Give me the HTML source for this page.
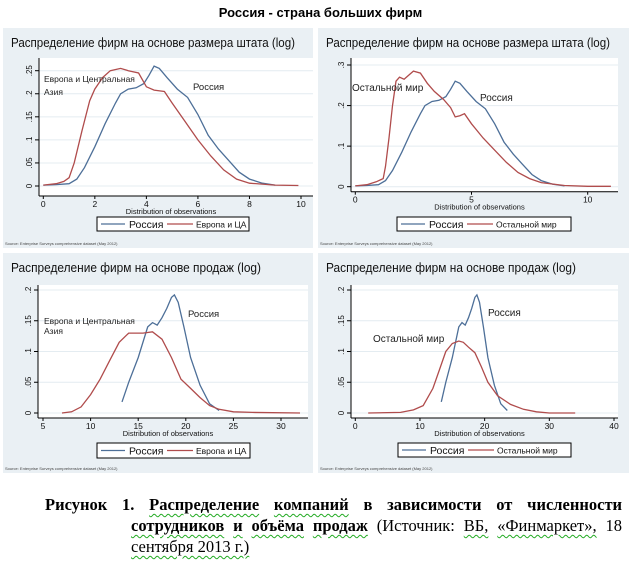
<!DOCTYPE html>
<html><head><meta charset="utf-8">
<style>
body{margin:0;width:633px;height:561px;background:#fff;overflow:hidden;position:relative;font-family:"Liberation Sans","DejaVu Sans",sans-serif}
#main-title{position:absolute;left:0;width:633px;top:5px;text-align:center;font-weight:bold;font-size:13px;color:#000;padding-left:4px}
svg{position:absolute;left:0;top:0}
.cap{position:absolute;font-family:"Liberation Serif",serif;font-size:16.5px;line-height:20px;color:#000;white-space:nowrap}
.just{text-align:justify;text-align-last:justify;white-space:normal}
.u{text-decoration:underline wavy #2a2;text-decoration-thickness:1px;text-underline-offset:3px}
</style></head><body>
<div id="main-title">Россия - страна больших фирм</div>
<svg id="chart" width="633" height="561"></svg>
<div>
<div class="cap just" style="left:45px;top:495px;width:577px"><b>Рисунок</b> <b>1.</b> <b class="u">Распределение</b> <b class="u">компаний</b> <b>в</b> <b>зависимости</b> <b>от</b> <b>численности</b></div>
<div class="cap just" style="left:131px;top:516px;width:491px"><b class="u">сотрудников</b> <b class="u">и</b> <b class="u">объёма</b> <b class="u">продаж</b> (Источник: <span class="u">ВБ,</span> <span class="u">«Финмаркет»,</span> 18</div>
<div class="cap" style="left:131px;top:537px"><span class="u">сентября 2013 г.)</span></div>
</div>
<script>
// Panel 1: staff size, Russia vs Europe & Central Asia
const p1RusX=[0,0.5,1,1.3,1.6,2,2.4,2.8,3.0,3.3,3.6,3.9,4.1,4.3,4.5,4.8,5.2,5.6,6,6.4,6.8,7.2,7.6,8,8.5,9];
const p1RusY=[0.002,0.003,0.005,0.015,0.04,0.085,0.135,0.18,0.2,0.21,0.213,0.222,0.24,0.26,0.255,0.235,0.21,0.192,0.155,0.11,0.08,0.055,0.03,0.015,0.006,0.002];
const p1EcaX=[0,0.5,0.8,1,1.2,1.5,1.8,2,2.3,2.6,3,3.3,3.7,4,4.3,4.7,5,5.5,6,6.5,7,7.5,8,9,9.9];
const p1EcaY=[0.002,0.005,0.01,0.018,0.05,0.12,0.185,0.21,0.235,0.25,0.255,0.25,0.245,0.215,0.208,0.205,0.18,0.14,0.1,0.065,0.035,0.015,0.006,0.002,0.001];
const p1XTicks=[0,2,4,6,8,10];
const p1YTicks=[0,0.05,0.1,0.15,0.2,0.25];
const p1YLabels=["0",".05",".1",".15",".2",".25"];
// Panel 2: staff size, Russia vs rest of world
const p2RusX=p1RusX;
const p2RusY=p1RusY;
const p2RowX=[0,0.5,0.9,1.2,1.3,1.45,1.6,1.75,1.9,2.1,2.3,2.5,2.8,3.1,3.4,3.8,4.1,4.3,4.5,4.7,5,5.5,6,6.5,7,7.5,8,9,10,11];
const p2RowY=[0.002,0.005,0.012,0.02,0.05,0.12,0.2,0.26,0.27,0.265,0.275,0.285,0.28,0.255,0.235,0.215,0.195,0.172,0.175,0.18,0.155,0.12,0.09,0.06,0.035,0.02,0.01,0.003,0.001,0.001];
const p2XTicks=[0,5,10];
const p2YTicks=[0,0.1,0.2,0.3];
const p2YLabels=["0",".1",".2",".3"];
// Panel 3: sales, Russia vs Europe & Central Asia
const p3RusX=[13.3,14,15,16,16.5,17,17.5,18,18.5,18.8,19.2,19.8,20.5,21.5,22.5,23.5];
const p3RusY=[0.018,0.05,0.09,0.14,0.147,0.143,0.155,0.17,0.188,0.192,0.18,0.14,0.09,0.045,0.015,0.004];
const p3EcaX=[7,8,9,10,11,12,13,14,14.5,15.5,16.5,17.5,18.5,19.5,20.5,21.5,22.5,23.5,25,27,32];
const p3EcaY=[0,0.002,0.01,0.03,0.055,0.085,0.115,0.13,0.13,0.13,0.132,0.12,0.09,0.055,0.04,0.025,0.012,0.006,0.002,0.001,0];
const p3XTicks=[5,10,15,20,25,30];
const p3YTicks=[0,0.05,0.1,0.15,0.2];
const p3YLabels=["0",".05",".1",".15",".2"];
// Panel 4: sales, Russia vs rest of world
const p4RusX=p3RusX;
const p4RusY=p3RusY;
const p4RowX=[2,7,9,10.5,12,13,14,15,16,16.7,17.5,18.5,19.5,20.5,22,24,26,28,30,34];
const p4RowY=[0,0.001,0.005,0.012,0.04,0.07,0.1,0.113,0.117,0.115,0.107,0.098,0.075,0.05,0.028,0.014,0.006,0.002,0,0];
const p4XTicks=[0,10,20,30,40];
const p4YTicks=[0,0.05,0.1,0.15,0.2];
const p4YLabels=["0",".05",".1",".15",".2"];

const NS="http://www.w3.org/2000/svg";
const svg=document.getElementById('chart');
const BLUE="#4d6f98",RED="#b04c4c";
function mk(tag,attrs,parent,text){const e=document.createElementNS(NS,tag);for(const k in attrs)e.setAttribute(k,attrs[k]);if(text!==undefined)e.textContent=text;(parent||svg).appendChild(e);return e;}

function panel(cfg){
  const g=mk('g',{});
  
  
  const bg=mk('rect',{x:cfg.px,y:cfg.py,width:cfg.pw,height:cfg.ph,fill:'#eaf0f4'},g);
  
  
  const pa=mk('rect',{x:cfg.ax0,y:cfg.ay1,width:cfg.ax1-cfg.ax0,height:cfg.axisY-cfg.ay1,fill:'#fff'},g);
  
  
  const xs=v=>cfg.x0px+(v-cfg.xmin)*(cfg.x1px-cfg.x0px)/(cfg.xmax-cfg.xmin);
  const ys=v=>cfg.y0px-(v-cfg.ymin)*(cfg.y0px-cfg.y1px)/(cfg.ymax-cfg.ymin);
  const t=mk('text',{x:cfg.px+8,y:cfg.py+19,'font-size':12.5,fill:'#111',textLength:cfg.tlen,lengthAdjust:'spacingAndGlyphs'},g,cfg.title);
  
  
  cfg.yTicks.forEach((v,i)=>{
    const y=ys(v);
    const gl=mk('line',{x1:cfg.ax0,x2:cfg.ax1,y1:y,y2:y,stroke:'#e4ecf1','stroke-width':1},g);
    
    
    mk('line',{x1:cfg.ax0-4,x2:cfg.ax0,y1:y,y2:y,stroke:'#000','stroke-width':1},g);
    const tl=mk('text',{x:cfg.ax0-7,y:y,'font-size':8,fill:'#111','text-anchor':'middle',transform:`rotate(-90 ${cfg.ax0-7} ${y})`},g,cfg.yLabels[i]);
    
    
  });
  mk('line',{x1:cfg.ax0,x2:cfg.ax0,y1:cfg.ay1,y2:cfg.axisY,stroke:'#000','stroke-width':1},g);
  mk('line',{x1:cfg.ax0,x2:cfg.ax1,y1:cfg.axisY,y2:cfg.axisY,stroke:'#000','stroke-width':1},g);
  cfg.xTicks.forEach(v=>{
    const x=xs(v);
    mk('line',{x1:x,x2:x,y1:cfg.axisY,y2:cfg.axisY+3,stroke:'#000','stroke-width':1},g);
    const tl=mk('text',{x:x,y:cfg.axisY+11,'font-size':8.5,fill:'#111','text-anchor':'middle'},g,String(v));
    
    
  });
  const xt=mk('text',{x:(cfg.ax0+cfg.ax1)/2-5,y:cfg.axisY+18,'font-size':7.5,fill:'#111','text-anchor':'middle'},g,'Distribution of observations');
  
  
  cfg.series.forEach(s=>{
    const d=s.x.map((v,i)=>(i?'L':'M')+xs(v).toFixed(1)+','+ys(s.y[i]).toFixed(1)).join(' ');
    const p=mk('path',{d:d,fill:'none',stroke:s.color,'stroke-width':1.3},g);
    
    
  });
  cfg.labels.forEach(l=>{
    const tx=mk('text',{x:l.x,y:l.y,'font-size':l.fs,fill:'#222'},g,l.t);
    
    
  });
  const L=cfg.legend;
  const lg=mk('g',{},g);
  
  
  mk('rect',{x:L.x,y:L.y,width:L.w,height:L.h,fill:'#fff',stroke:'#000','stroke-width':1},lg);
  const cy=L.y+L.h/2;
  mk('line',{x1:L.x+4,x2:L.x+28,y1:cy,y2:cy,stroke:BLUE,'stroke-width':1.3},lg);
  const e1=mk('text',{x:L.x+32,y:cy+4,'font-size':10.5,fill:'#111'},lg,'Россия');
  
  
  mk('line',{x1:L.x+L.l2,x2:L.x+L.l2+26,y1:cy,y2:cy,stroke:RED,'stroke-width':1.3},lg);
  const e2=mk('text',{x:L.x+L.l2+29,y:cy+3.5,'font-size':8.5,fill:'#111'},lg,L.t2);
  
  
  const src=mk('text',{x:cfg.px+2,y:cfg.py+cfg.ph-3,'font-size':4,fill:'#444'},g,'Source: Enterprise Surveys comprehensive dataset (May 2012)');
  
  
}

panel({name:'panel-staff-eca',px:3,py:28,pw:310,ph:220,ax0:39,ax1:313,ay1:58,axisY:196,
  xmin:0,xmax:10,x0px:43.3,x1px:301,ymin:0,ymax:0.25,y0px:186,y1px:70.7,
  title:'Распределение фирм на основе размера штата (log)',tlen:284,
  xTicks:p1XTicks,yTicks:p1YTicks,yLabels:p1YLabels,
  series:[{name:'line-russia',x:p1RusX,y:p1RusY,color:BLUE},{name:'line-europe-ca',x:p1EcaX,y:p1EcaY,color:RED}],
  labels:[{x:44,y:82,t:'Европа и Центральная',fs:8.5},{x:44,y:95,t:'Азия',fs:8.5},{x:193,y:90,t:'Россия',fs:9.5}],
  legend:{x:97,y:217,w:152,h:14,l2:70,t2:'Европа и ЦА'}});

panel({name:'panel-staff-world',px:318,py:28,pw:311,ph:220,ax0:351,ax1:618,ay1:58,axisY:191.7,
  xmin:0,xmax:10,x0px:355.3,x1px:587.7,ymin:0,ymax:0.3,y0px:186.7,y1px:65,
  title:'Распределение фирм на основе размера штата (log)',tlen:284,
  xTicks:p2XTicks,yTicks:p2YTicks,yLabels:p2YLabels,
  series:[{name:'line-russia',x:p2RusX,y:p2RusY,color:BLUE},{name:'line-rest-of-world',x:p2RowX,y:p2RowY,color:RED}],
  labels:[{x:352,y:91,t:'Остальной мир',fs:10},{x:480,y:101,t:'Россия',fs:10}],
  legend:{x:397,y:217,w:174,h:14,l2:70,t2:'Остальной мир'}});

panel({name:'panel-sales-eca',px:3,py:253,pw:310,ph:220,ax0:38,ax1:308,ay1:285,axisY:418,
  xmin:5,xmax:30,x0px:43,x1px:281,ymin:0,ymax:0.2,y0px:413,y1px:290,
  title:'Распределение фирм на основе  продаж (log)',tlen:250,
  xTicks:p3XTicks,yTicks:p3YTicks,yLabels:p3YLabels,
  series:[{name:'line-russia',x:p3RusX,y:p3RusY,color:BLUE},{name:'line-europe-ca',x:p3EcaX,y:p3EcaY,color:RED}],
  labels:[{x:44,y:324,t:'Европа и Центральная',fs:8.5},{x:44,y:334,t:'Азия',fs:8.5},{x:188,y:317,t:'Россия',fs:9.5}],
  legend:{x:97,y:443,w:153,h:15,l2:70,t2:'Европа и ЦА'}});

panel({name:'panel-sales-world',px:318,py:253,pw:311,ph:220,ax0:351,ax1:618,ay1:285,axisY:418,
  xmin:0,xmax:40,x0px:355.3,x1px:614,ymin:0,ymax:0.2,y0px:413,y1px:290,
  title:'Распределение фирм на основе  продаж (log)',tlen:250,
  xTicks:p4XTicks,yTicks:p4YTicks,yLabels:p4YLabels,
  series:[{name:'line-russia',x:p4RusX,y:p4RusY,color:BLUE},{name:'line-rest-of-world',x:p4RowX,y:p4RowY,color:RED}],
  labels:[{x:373,y:342,t:'Остальной мир',fs:10},{x:488,y:316,t:'Россия',fs:10}],
  legend:{x:398,y:443,w:173,h:14,l2:70,t2:'Остальной мир'}});
</script>
</body></html>
